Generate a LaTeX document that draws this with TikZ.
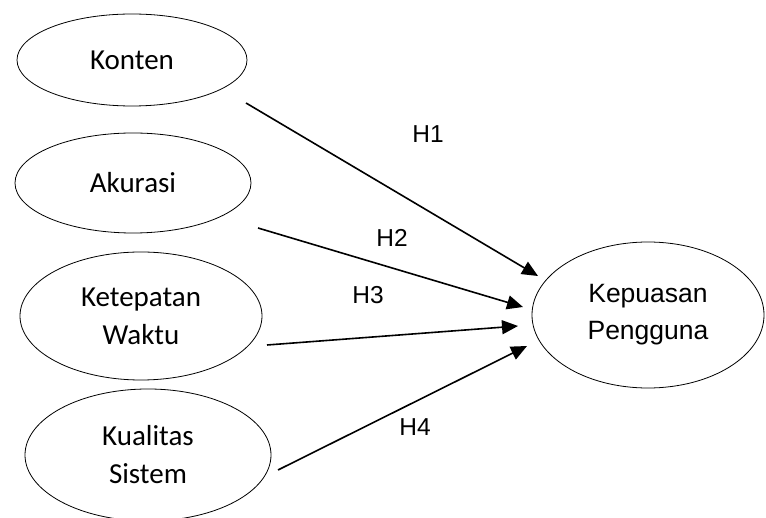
\documentclass[tikz,border=0pt]{standalone}
\usepackage{fontspec}
\setmainfont{Liberation Sans}
\newfontfamily\calfont{Carlito}
\usetikzlibrary{shapes.geometric,arrows.meta}
\begin{document}
\begin{tikzpicture}[x=1pt,y=-1pt,
  var/.style={ellipse,draw,line width=0.8pt,inner sep=0pt,align=center},
  leftvar/.style={var,font=\calfont\fontsize{29}{38}\selectfont},
  path/.style={line width=1.6pt,-{Triangle[length=16pt,width=14pt]}},
  hlab/.style={font=\fontsize{24.5}{29}\selectfont}]
\clip (0,0) rectangle (766,518);
\fill[white] (0,0) rectangle (766,518);
\node[leftvar,minimum width=230pt,minimum height=92pt] (konten) at (132,60) {Konten};
\node[leftvar,minimum width=236pt,minimum height=100pt] (akurasi) at (133,183) {Akurasi};
\node[leftvar,minimum width=242pt,minimum height=128pt] (waktu) at (141,316) {Ketepatan\\Waktu};
\node[leftvar,minimum width=246pt,minimum height=132pt] (sistem) at (148,455) {Kualitas\\Sistem};
\node[var,font=\fontsize{26.5}{37}\selectfont,minimum width=232pt,minimum height=146pt] (puas) at (648,315) {Kepuasan\\Pengguna};
\coordinate (s1) at (246,103); \coordinate (t1) at (538,276);
\coordinate (s2) at (258,228); \coordinate (t2) at (523,307);
\coordinate (s3) at (267,345); \coordinate (t3) at (518,326);
\coordinate (s4) at (278,470); \coordinate (t4) at (527,346);
\draw[path] (s1) -- (t1);
\draw[path] (s2) -- (t2);
\draw[path] (s3) -- (t3);
\draw[path] (s4) -- (t4);
\node[hlab] (h1) at (428,134) {H1};
\node[hlab] (h2) at (392,238) {H2};
\node[hlab] (h3) at (368,295) {H3};
\node[hlab] (h4) at (415,427) {H4};
\end{tikzpicture}
\end{document}
